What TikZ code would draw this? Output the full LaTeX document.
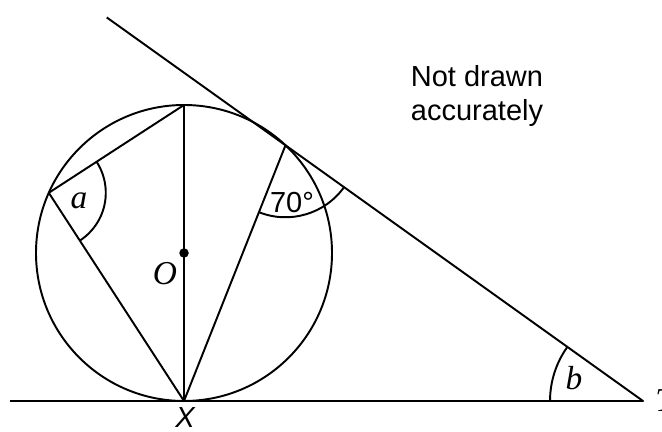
\documentclass[tikz,border=0pt]{standalone}
\usepackage{fontspec}
\setmainfont{Liberation Serif}
\setsansfont{Liberation Sans}
\usetikzlibrary{angles,calc}
\tikzset{
  cline/.style={line width=1.1pt,line join=round},
  cangle/.style={draw,line width=1.1pt},
  cdot/.style={circle,fill=black,inner sep=0pt,minimum size=1.9mm},
  clabel/.style={font=\fontsize{19}{22}\selectfont\itshape,inner sep=0pt},
  csans/.style={font=\sffamily\fontsize{16.5}{19.5}\selectfont,inner sep=0pt},
  cnote/.style={csans,align=center}
}

\begin{document}
\begin{tikzpicture}[x=0.02cm,y=0.02cm]
  \useasboundingbox (0,0) rectangle (662,432);
  % circle and the points on it
  \coordinate (O) at (184,179);
  \coordinate (X) at ($(O)+(270:148)$);
  \coordinate (P) at ($(O)+(90:148)$);
  \coordinate (A) at ($(O)+(156:148)$);
  \coordinate (C) at ($(O)+(46.7:148)$);
  \coordinate (T) at (643,31);
  \coordinate (L) at (10,31);
  \coordinate (U) at ($(T)!1.5!(C)$);
  \draw[cline] (O) circle[radius=148];
  \node[cdot] (Odot) at (O) {};
  % tangents
  \draw[cline] (L) -- (T) -- (U);
  % chords
  \draw[cline] (X) -- (A) -- (P) -- (X) -- (C);
  % angles
  \pic[cangle,angle radius=1.14cm] {angle=X--A--P};
  \pic[cangle,angle radius=1.44cm] {angle=X--C--T};
  \pic[cangle,angle radius=1.86cm] {angle=C--T--X};
  % labels
  \node[clabel] (la) at (79,231) {a};
  \node[csans] (l70) at (292,229) {70°};
  \node[clabel] (lb) at (574,54) {b};
  \node[clabel] (lO) at (165,158) {O};
  \node[csans,font=\sffamily\itshape\fontsize{16.5}{19.5}\selectfont,anchor=base] (lX) at (185,4) {X};
  \node[clabel,anchor=base west] (lT) at (655,20) {T};
  \node[cnote] (note) at (477,336) {Not drawn\\accurately};
\end{tikzpicture}
\end{document}
